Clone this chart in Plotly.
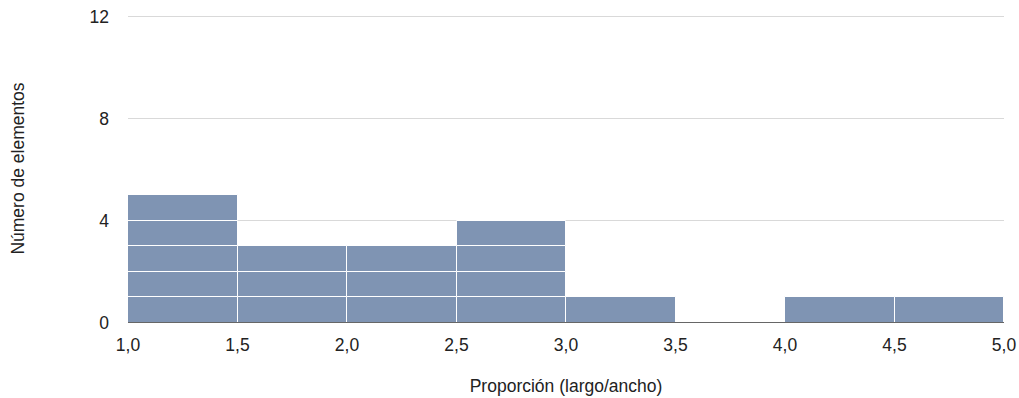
import plotly.graph_objects as go

bin_starts = [1.0, 1.5, 2.0, 2.5, 3.0, 3.5, 4.0, 4.5]
counts = [5, 3, 3, 4, 1, 0, 1, 1]
x_ticks = [1.0, 1.5, 2.0, 2.5, 3.0, 3.5, 4.0, 4.5, 5.0]
x_tick_labels = ["1,0", "1,5", "2,0", "2,5", "3,0", "3,5", "4,0", "4,5", "5,0"]
y_ticks = [0, 4, 8, 12]

bin_width = 0.5
fig = go.Figure()
max_count = max(counts)
for level in range(1, max_count + 1):
    xs, bases, ys = [], [], []
    for s, c in zip(bin_starts, counts):
        if c >= level:
            xs.append(s + bin_width / 2)
            bases.append(level - 1)
            ys.append(1)
    fig.add_trace(go.Bar(
        x=xs, y=ys, base=bases, width=bin_width,
        marker=dict(color="#7f94b3", line=dict(color="#ffffff", width=1)),
        showlegend=False, hoverinfo="skip",
    ))

fig.update_layout(
    width=1019, height=398,
    margin=dict(l=128, r=15, t=14, b=75),
    plot_bgcolor="#ffffff", paper_bgcolor="#ffffff",
    font=dict(family="Liberation Sans, Arial, sans-serif", size=17, color="#222222"),
    barmode="overlay", bargap=0,
    xaxis=dict(
        range=[1.0, 5.0], tickvals=x_ticks, ticktext=x_tick_labels,
        showgrid=False, zeroline=False, showline=False,
        ticks="", ticklabelstandoff=9, automargin=False,
        ticklabeloverflow="allow",
        title=dict(text="Proporción (largo/ancho)", standoff=26,
                   font=dict(size=17.5, color="#222222")),
        tickfont=dict(size=17.5),
    ),
    yaxis=dict(
        range=[0, 12.1], tickvals=y_ticks,
        showgrid=True, gridcolor="#d9d9d9", gridwidth=1,
        zeroline=False, showline=False, ticks="",
        ticklabelstandoff=18, automargin=False,
        ticklabeloverflow="allow",
        title=dict(text="Número de elementos", standoff=60,
                   font=dict(size=17.5, color="#222222")),
        tickfont=dict(size=17.5),
    ),
    shapes=[dict(type="line", xref="paper", yref="y", x0=0, x1=1, y0=0, y1=0,
                 line=dict(color="#333333", width=1.5))],
)

fig.write_html(
    "out.html",
    config={"displayModeBar": False},
    post_script="document.body.style.margin='0';document.body.style.overflow='hidden';",
)
